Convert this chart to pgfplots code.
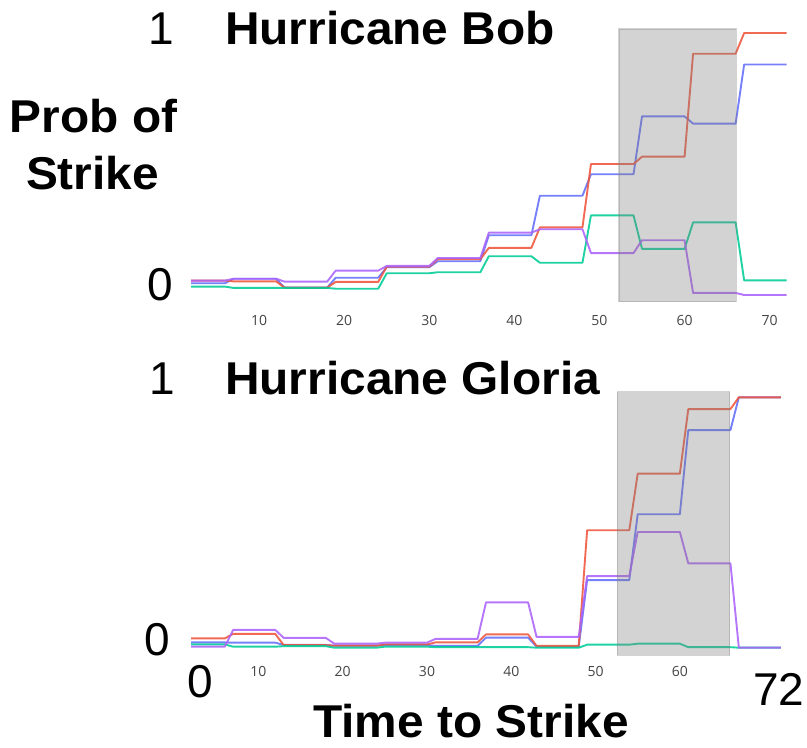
\documentclass[border=0pt]{standalone}
\usepackage{fontspec}
\setmainfont{Liberation Sans}[BoldFeatures={FakeStretch=1.04}]
\newfontfamily\ticksf{Open Sans}
\usepackage{pgfplots}
\usepackage{pgfplotstable}
\pgfplotsset{compat=1.18}

\definecolor{cblue}{HTML}{636EFA}
\definecolor{cred}{HTML}{EF553B}
\definecolor{cgreen}{HTML}{00CC96}
\definecolor{cpurple}{HTML}{AB63FA}
\definecolor{ticktext}{HTML}{444444}

% Strike probabilities, updated every 6 hours
\pgfplotstableread{
hour red   blue  green purple
2    0.055 0.045 0.032 0.055
6    0.055 0.045 0.032 0.055
7    0.052 0.062 0.027 0.062
12   0.052 0.062 0.027 0.062
13   0.028 0.028 0.027 0.051
18   0.028 0.028 0.027 0.051
19   0.050 0.066 0.024 0.093
24   0.050 0.066 0.024 0.093
25   0.108 0.106 0.083 0.111
30   0.108 0.106 0.083 0.111
31   0.137 0.129 0.087 0.141
36   0.137 0.129 0.087 0.141
37   0.180 0.228 0.148 0.238
42   0.180 0.228 0.148 0.238
43   0.258 0.379 0.123 0.251
48   0.258 0.379 0.123 0.251
49   0.500 0.461 0.304 0.160
54   0.500 0.461 0.304 0.160
55   0.528 0.682 0.176 0.209
60   0.528 0.682 0.176 0.209
61   0.921 0.654 0.277 0.008
66   0.921 0.654 0.277 0.008
67   1.000 0.880 0.056 0.000
72   1.000 0.880 0.056 0.000
}\bob

\pgfplotstableread{
hour red   blue  green purple
2    0.037 0.021 0.013 0.004
6    0.037 0.021 0.013 0.004
7    0.055 0.020 0.004 0.071
12   0.055 0.020 0.004 0.071
13   0.010 0.011 0.006 0.039
18   0.010 0.011 0.006 0.039
19   0.008 0.008 0.000 0.016
24   0.008 0.008 0.000 0.016
25   0.013 0.011 0.004 0.020
30   0.013 0.011 0.004 0.020
31   0.021 0.007 0.002 0.035
36   0.021 0.007 0.002 0.035
37   0.053 0.040 0.002 0.181
42   0.053 0.040 0.002 0.181
43   0.007 0.004 0.000 0.043
48   0.007 0.004 0.000 0.043
49   0.469 0.270 0.012 0.286
54   0.469 0.270 0.012 0.286
55   0.695 0.533 0.016 0.462
60   0.695 0.533 0.016 0.462
61   0.953 0.869 0.002 0.337
66   0.953 0.869 0.002 0.337
67   1.000 1.000 0.000 0.000
72   1.000 1.000 0.000 0.000
}\gloria

\pgfplotsset{
  panel/.style={
    anchor=south west, scale only axis, clip=false,
    xmin=2, xmax=72,
    axis line style={draw=none},
    major tick length=0pt,
    ytick=\empty,
    xtick pos=bottom,
    /pgf/number format/assume math mode=true,
    xticklabel style={font=\ticksf\fontsize{14}{16}\selectfont, text=ticktext, anchor=center},
    every axis plot/.append style={line width=1.9pt, opacity=0.88, line join=round},
  },
}

\newcommand{\bigfont}{\fontsize{46}{50}\selectfont}

\begin{document}
\begin{tikzpicture}[x=1pt, y=1pt]
\path[use as bounding box] (0,0) rectangle (807,748);

% Hurricane Bob
\begin{axis}[panel, at={(191pt,446.45pt)}, width=595.7pt, height=272.45pt,
  ymin=-0.025, ymax=1.015, xtick={10,20,...,70},
  xticklabel style={yshift=-18.5pt}]
  \addplot[cblue]   table[x=hour, y=blue]   {\bob};
  \addplot[cred]    table[x=hour, y=red]    {\bob};
  \addplot[cgreen]  table[x=hour, y=green]  {\bob};
  \addplot[cpurple] table[x=hour, y=purple] {\bob};
  \draw[fill=gray, fill opacity=0.35, draw=gray, draw opacity=0.35, line width=1.2pt]
    (axis cs:52.3,-0.025) rectangle (axis cs:66.1,1.015);
\end{axis}

% Hurricane Gloria
\begin{axis}[panel, at={(191pt,92.8pt)}, width=590pt, height=263.4pt,
  ymin=-0.03, ymax=1.022, xtick={10,20,...,60},
  xticklabel style={yshift=-15.8pt}]
  \addplot[cblue]   table[x=hour, y=blue]   {\gloria};
  \addplot[cred]    table[x=hour, y=red]    {\gloria};
  \addplot[cgreen]  table[x=hour, y=green]  {\gloria};
  \addplot[cpurple] table[x=hour, y=purple] {\gloria};
  \draw[fill=gray, fill opacity=0.35, draw=gray, draw opacity=0.35, line width=1.2pt]
    (axis cs:52.6,-0.03) rectangle (axis cs:65.9,1.022);
\end{axis}

\begin{scope}[every node/.style={inner sep=0pt, font=\bigfont}]
  \node[anchor=base] at (161.7,703) {1};
  \node[anchor=base west] at (225,703) {\bfseries Hurricane Bob};
  \node[anchor=base] at (93.5,615.3) {\bfseries Prob of};
  \node[anchor=base] at (92.5,558) {\bfseries Strike};
  \node[anchor=base] at (160.5,447.5) {0};
  \node[anchor=base] at (162.5,353) {1};
  \node[anchor=base west] at (225,353) {\bfseries Hurricane Gloria};
  \node[anchor=base] at (157.5,92) {0};
  \node[anchor=base] at (200.5,50) {0};
  \node[anchor=base] at (779,42) {72};
  \node[anchor=base] at (471,10) {\bfseries Time to Strike};
\end{scope}
\end{tikzpicture}
\end{document}
